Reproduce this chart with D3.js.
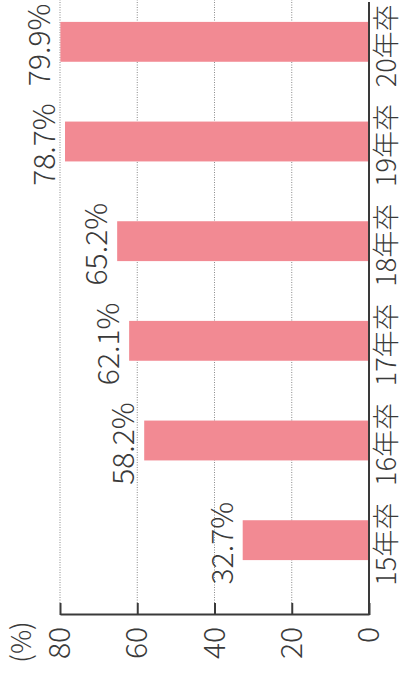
<!DOCTYPE html>
<html>
<head>
<meta charset="utf-8">
<script src="https://cdn.jsdelivr.net/npm/d3@7/dist/d3.min.js"></script>
<style>
  html, body { margin: 0; padding: 0; background: #fff; }
  svg { display: block; }
  text { font-family: "Noto Sans CJK JP", "Liberation Sans", sans-serif; font-weight: 300; fill: #3a3a3a; }
</style>
</head>
<body>
<svg id="chart" width="403" height="684"></svg>
<script>
// 内定率の推移（卒業年別）
const categories = ["15年卒", "16年卒", "17年卒", "18年卒", "19年卒", "20年卒"];
const values = [32.7, 58.2, 62.1, 65.2, 78.7, 79.9];
const valueLabels = ["32.7%", "58.2%", "62.1%", "65.2%", "78.7%", "79.9%"];
const tickValues = [0, 20, 40, 60, 80];
const unitLabel = "(%)";

const svgW = 403, svgH = 684;
const svg = d3.select("#chart");

// The chart is laid out as an ordinary column chart and turned a quarter turn
// counter-clockwise: its width runs along the page height.
const W = svgH;
const g = svg.append("g").attr("transform", `translate(0,${svgH}) rotate(-90)`);

const axisX = 69;     // value axis position
const baseY = 369;    // category axis (zero line)

const x = d3.scaleBand().domain(categories).range([94, 692]).paddingInner(0.6).paddingOuter(0.3);
const y = d3.scaleLinear().domain([0, 80]).range([baseY, 60]);

// dotted gridlines
g.append("g").selectAll("line").data(tickValues.filter(v => v > 0)).join("line")
  .attr("x1", axisX + 12).attr("x2", W)
  .attr("y1", d => y(d)).attr("y2", d => y(d))
  .attr("stroke", "#8a8a8a").attr("stroke-width", 1).attr("stroke-dasharray", "1,1.5");

// bars
g.append("g").selectAll("rect").data(values).join("rect")
  .attr("x", (d, i) => x(categories[i]))
  .attr("width", x.bandwidth())
  .attr("y", d => y(d))
  .attr("height", d => y(0) - y(d))
  .attr("fill", "#f28a93");

// value labels
g.append("g").selectAll("text").data(values).join("text")
  .attr("x", (d, i) => x(categories[i]) + x.bandwidth() / 2 - 3)
  .attr("y", d => y(d) - 10)
  .attr("text-anchor", "middle")
  .attr("font-size", 30)
  .text((d, i) => valueLabels[i]);

// value axis
const yAxis = g.append("g").attr("transform", `translate(${axisX},0)`)
  .call(d3.axisLeft(y).tickValues(tickValues).tickSizeInner(-12).tickSizeOuter(0).tickPadding(12));
yAxis.select(".domain").attr("stroke", "#3a3a3a").attr("stroke-width", 2);
yAxis.selectAll(".tick line").attr("stroke", "#3a3a3a").attr("stroke-width", 2);
yAxis.selectAll(".tick text").attr("font-size", 30).attr("font-family", null).attr("fill", null);

// category axis line
g.append("line")
  .attr("x1", axisX).attr("x2", 682)
  .attr("y1", baseY).attr("y2", baseY)
  .attr("stroke", "#3a3a3a").attr("stroke-width", 2);

// category labels
g.append("g").selectAll("text").data(categories).join("text")
  .attr("x", d => x(d) + x.bandwidth() / 2 - 4)
  .attr("y", 396)
  .attr("text-anchor", "middle")
  .attr("font-size", 27)
  .text(d => d);

// unit label
g.append("text")
  .attr("x", 42).attr("y", 31)
  .attr("text-anchor", "middle")
  .attr("font-size", 27)
  .text(unitLabel);
</script>
</body>
</html>
